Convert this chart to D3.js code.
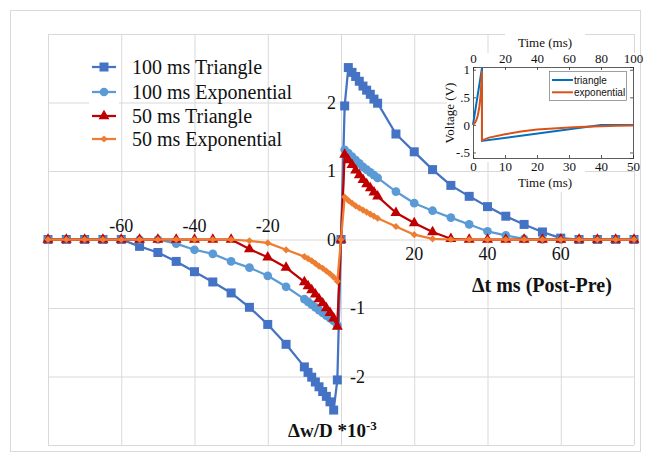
<!DOCTYPE html>
<html>
<head>
<meta charset="utf-8">
<script src="https://cdn.jsdelivr.net/npm/d3@7"></script>
<style>
  html, body { margin: 0; padding: 0; background: #fff; }
  svg { display: block; }
</style>
</head>
<body>
<svg id="chart" width="650" height="460"></svg>
<script>
// Spike-timing delays (ms, post - pre)
const delays = [-80,-75,-70,-65,-60,-55,-50,-45,-40,-35,-30,-25,-20,-15,
  -10,-9,-8,-7,-6,-5,-4,-3,-2,-1,0,1,2,3,4,5,6,7,8,9,10,
  15,20,25,30,35,40,45,50,55,60,65,70,75,80];

// Weight change (x10^-3) for each pulse shape
const tri100 = [0,0,0,0,0,-0.10,-0.19,-0.32,-0.47,-0.62,-0.78,-0.99,-1.24,-1.53,
  -1.86,-1.94,-2.01,-2.08,-2.15,-2.22,-2.29,-2.37,-2.49,-2.05,0,
  1.95,2.51,2.44,2.38,2.31,2.24,2.18,2.12,2.05,1.99,
  1.54,1.28,1.02,0.79,0.63,0.48,0.34,0.22,0.11,0.02,0,0,0,0];
const exp100 = [0,0,0,0,0,0,0,-0.06,-0.15,-0.21,-0.32,-0.41,-0.53,-0.69,
  -0.87,-0.91,-0.95,-0.99,-1.03,-1.07,-1.11,-1.15,-1.19,-1.25,0,
  1.31,1.26,1.21,1.16,1.11,1.06,1.02,0.98,0.94,0.90,
  0.70,0.53,0.42,0.32,0.22,0.12,0.06,0.01,0,0,0,0,0,0];
const tri50 = [0,0,0,0,0,0,0,0,0,0,0,-0.14,-0.26,-0.41,
  -0.62,-0.68,-0.74,-0.80,-0.87,-0.93,-1.00,-1.07,-1.15,-1.27,0,
  1.24,1.16,1.09,1.01,0.94,0.87,0.81,0.75,0.69,0.63,
  0.39,0.24,0.11,0.01,0,0,0,0,0,0,0,0,0,0];
const exp50 = [0,0,0,0,0,0,0,0,0,0,0,-0.02,-0.05,-0.15,
  -0.25,-0.28,-0.31,-0.35,-0.39,-0.42,-0.46,-0.50,-0.55,-0.61,0,
  0.62,0.57,0.53,0.49,0.46,0.43,0.40,0.37,0.34,0.31,
  0.19,0.07,0.01,0,0,0,0,0,0,0,0,0,0,0];

const seriesNames = ["100 ms Triangle","100 ms Exponential","50 ms Triangle","50 ms Exponential"];
const seriesColors = ["#4472C4","#5B9BD5","#C00000","#ED7D31"];

const xGridTicks = [-80,-60,-40,-20,0,20,40,60,80];
const yGridTicks = [-3,-2,-1,0,1,2,3];
const xLabelTicks = [-60,-40,-20,20,40,60];
const yLabelTicks = [2,1,0,-1,-2];

// Inset: voltage waveforms of the two pulse shapes
const insetTriT = [0,2.8,2.8,40,50];
const insetTriV = [0,1.03,-0.29,0,0];
const insetExpT = [0,0.5,1,1.5,2,2.4,2.8,2.8,5,10,15,20,25,30,35,40,45,50];
const insetExpV = [0,0.03,0.08,0.17,0.33,0.55,0.98,-0.28,-0.23,-0.17,-0.12,-0.085,-0.065,-0.048,-0.035,-0.025,-0.017,-0.012];
const insetBottomTicks = [0,10,20,30,40,50];
const insetTopTicks = [0,20,40,60,80,100];
const insetYTicks = [-0.5,0,0.5,1];
const insetYLabels = ["-.5","0",".5","1"];
const insetNames = ["triangle","exponential"];
const insetColors = ["#0072BD","#D95319"];

const svg = d3.select("#chart");
const serif = "'Liberation Serif', 'Times New Roman', serif";

// Chart frame
svg.append("rect").attr("x",10.5).attr("y",10.5).attr("width",630).attr("height",441)
  .attr("fill","#fff").attr("stroke","#D9D9D9").attr("stroke-width",1);

const x = d3.scaleLinear().domain([-80,80]).range([48,634]);
const y = d3.scaleLinear().domain([-3,3]).range([445,34]);

// Gridlines
const gx = svg.append("g").attr("transform",`translate(0,${y(-3)})`)
  .call(d3.axisBottom(x).tickValues(xGridTicks).tickSize(-(y(-3)-y(3))).tickFormat(""));
const gy = svg.append("g").attr("transform",`translate(${x(-80)},0)`)
  .call(d3.axisLeft(y).tickValues(yGridTicks).tickSize(-(x(80)-x(-80))).tickFormat(""));
[gx,gy].forEach(g => {
  g.select(".domain").remove();
  g.selectAll(".tick line").attr("stroke","#D9D9D9").attr("stroke-width",1);
});

// Tick labels
svg.append("g").selectAll("text").data(xLabelTicks).join("text")
  .attr("x", d => x(d))
  .attr("y", d => d < 0 ? y(0) - 8 : y(0) + 20)
  .attr("text-anchor","middle")
  .attr("font-family",serif).attr("font-size",18).attr("fill","#111")
  .text(d => d);
svg.append("g").selectAll("text").data(yLabelTicks).join("text")
  .attr("x", d => d < 0 ? x(0) + 9 : x(0) - 5)
  .attr("y", d => y(d) + 6)
  .attr("text-anchor", d => d < 0 ? "start" : "end")
  .attr("font-family",serif).attr("font-size",18).attr("fill","#111")
  .text(d => d);

// Series
const allSeries = [tri100, exp100, tri50, exp50];
const symbolTypes = [d3.symbolSquare, d3.symbolCircle, d3.symbolTriangle, d3.symbolSquare];
const symbolSizes = [81, 60, 52, 26];
const symbolRot = [0, 0, 0, 45];
const line = d3.line().x(d => x(d[0])).y(d => y(d[1]));

allSeries.forEach((vals, i) => {
  const pts = delays.map((t, k) => [t, vals[k]]);
  const g = svg.append("g");
  g.append("path").datum(pts).attr("d", line)
    .attr("fill","none").attr("stroke",seriesColors[i]).attr("stroke-width",2.25)
    .attr("stroke-linejoin","round");
  g.selectAll("path.m").data(pts).join("path").attr("class","m")
    .attr("d", d3.symbol().type(symbolTypes[i]).size(symbolSizes[i]))
    .attr("transform", d => `translate(${x(d[0])},${y(d[1])}) rotate(${symbolRot[i]})`)
    .attr("fill", seriesColors[i]);
});

// Axis titles
svg.append("text").attr("x",472).attr("y",292)
  .attr("font-family",serif).attr("font-size",20).attr("font-weight","bold").attr("fill","#111")
  .text("\u0394t ms (Post-Pre)");
const yt = svg.append("text").attr("x",288).attr("y",437)
  .attr("font-family",serif).attr("font-size",19).attr("font-weight","bold").attr("fill","#111");
yt.append("tspan").text("\u0394w/D *10");
yt.append("tspan").attr("font-size",13).attr("dy",-7).text("-3");

// Legend
svg.append("rect").attr("x",89).attr("y",56).attr("width",30).attr("height",94).attr("fill","#fff");
const legRows = [67, 92, 116, 139];
seriesNames.forEach((name, i) => {
  const cy = legRows[i];
  svg.append("line").attr("x1",92).attr("x2",116).attr("y1",cy).attr("y2",cy)
    .attr("stroke",seriesColors[i]).attr("stroke-width",2.25);
  svg.append("path").attr("d", d3.symbol().type(symbolTypes[i]).size(symbolSizes[i]))
    .attr("transform",`translate(104,${cy}) rotate(${symbolRot[i]})`)
    .attr("fill",seriesColors[i]);
  svg.append("text").attr("x",132).attr("y",cy+6.5)
    .attr("font-family",serif).attr("font-size",20).attr("fill","#111").text(name);
});

// ---- Inset ----
svg.append("rect").attr("x",447).attr("y",53).attr("width",193).attr("height",109).attr("fill","#fff");
svg.append("rect").attr("x",505).attr("y",30).attr("width",80).attr("height",24).attr("fill","#fff");
svg.append("rect").attr("x",505).attr("y",162).attr("width",80).attr("height",30).attr("fill","#fff");

const ix = d3.scaleLinear().domain([0,50]).range([473,633]);
const ixTop = d3.scaleLinear().domain([0,100]).range([473,633]);
const iy = d3.scaleLinear().domain([-0.6,1.05]).range([158,67]);

const inset = svg.append("g");
const insetAxisBottom = inset.append("g").attr("transform",`translate(0,${iy(-0.6)})`)
  .call(d3.axisBottom(ix).tickValues(insetBottomTicks).tickSize(-3).tickPadding(4));
const insetAxisTop = inset.append("g").attr("transform",`translate(0,${iy(1.05)})`)
  .call(d3.axisTop(ixTop).tickValues(insetTopTicks).tickSize(-3).tickPadding(4));
const insetAxisLeft = inset.append("g").attr("transform",`translate(${ix(0)},0)`)
  .call(d3.axisLeft(iy).tickValues(insetYTicks).tickSize(-3).tickPadding(3)
    .tickFormat((d, k) => insetYLabels[k]));
const insetAxisRight = inset.append("g").attr("transform",`translate(${ix(50)},0)`)
  .call(d3.axisRight(iy).tickValues(insetYTicks).tickSize(-3).tickFormat(""));
[insetAxisBottom, insetAxisTop, insetAxisLeft, insetAxisRight].forEach(g => {
  g.select(".domain").attr("stroke","#333").attr("stroke-width",0.8);
  g.selectAll(".tick line").attr("stroke","#333").attr("stroke-width",0.8);
  g.selectAll(".tick text").attr("font-family",serif).attr("font-size",13).attr("fill","#111");
});

const iline = d3.line().x(d => ix(d[0])).y(d => iy(d[1]));
inset.append("path").datum(insetTriT.map((t,k) => [t, insetTriV[k]])).attr("d", iline)
  .attr("fill","none").attr("stroke",insetColors[0]).attr("stroke-width",2);
inset.append("path").datum(insetExpT.map((t,k) => [t, insetExpV[k]])).attr("d", iline)
  .attr("fill","none").attr("stroke",insetColors[1]).attr("stroke-width",2);

// Inset legend
inset.append("rect").attr("x",549.5).attr("y",71.5).attr("width",77).attr("height",29)
  .attr("fill","#fff").attr("stroke","#777").attr("stroke-width",0.7);
insetNames.forEach((n, i) => {
  const cy = 80 + i * 12.3;
  inset.append("line").attr("x1",552).attr("x2",573).attr("y1",cy).attr("y2",cy)
    .attr("stroke",insetColors[i]).attr("stroke-width",2);
  inset.append("text").attr("x",574).attr("y",cy+3.5)
    .attr("font-family","'Liberation Sans', Arial, sans-serif").attr("font-size",10)
    .attr("fill","#111").text(n);
});

// Inset titles
inset.append("text").attr("x",545).attr("y",47).attr("text-anchor","middle")
  .attr("font-family",serif).attr("font-size",13).attr("fill","#111").text("Time (ms)");
inset.append("text").attr("x",545).attr("y",187).attr("text-anchor","middle")
  .attr("font-family",serif).attr("font-size",13).attr("fill","#111").text("Time (ms)");
inset.append("text").attr("transform","translate(454,113) rotate(-90)").attr("text-anchor","middle")
  .attr("font-family",serif).attr("font-size",13).attr("fill","#111").text("Voltage (V)");
</script>
</body>
</html>
